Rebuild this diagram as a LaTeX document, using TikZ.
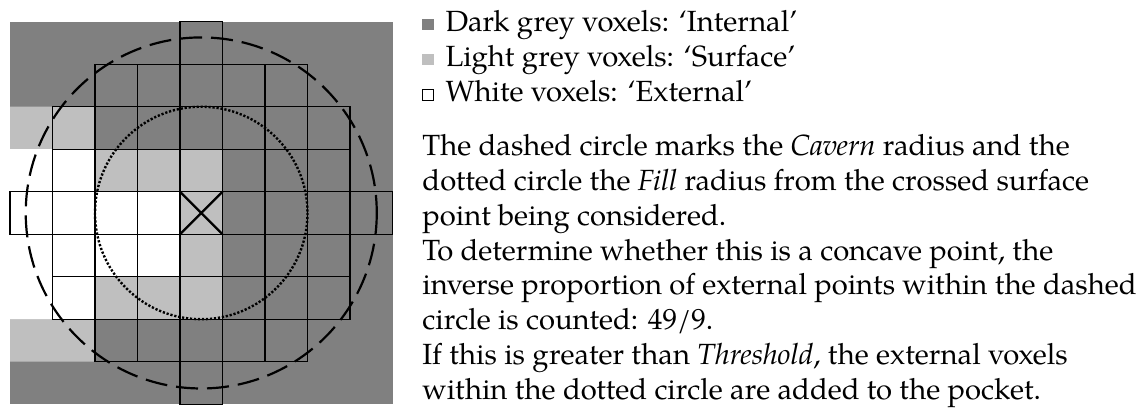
\documentclass[tikz,border=0pt]{standalone}
\usepackage{fontspec}
\setmainfont{TeX Gyre Pagella}
\usetikzlibrary{calc}

\definecolor{voxdark}{gray}{0.5}
\definecolor{voxlight}{gray}{0.75}
\newcommand{\swatch}[1]{\raisebox{0.8pt}{\textcolor{#1}{\rule{5.8pt}{5.8pt}}}}
\newcommand{\openswatch}{\raisebox{0.8pt}{\setlength{\fboxsep}{0pt}\setlength{\fboxrule}{0.4pt}\fbox{\rule{0pt}{5pt}\rule{5pt}{0pt}}}}

\begin{document}
\begin{tikzpicture}[x=0.5pt,y=-0.5pt,
  cell/.style={draw=black,line width=0.6pt},
  txt/.style={anchor=base west,inner sep=0pt,font=\fontsize{14.6}{18}\selectfont}]
  \useasboundingbox (0,0) rectangle (1138,412);
  % Left: voxel slice, 9x9 cells, crossed surface point in the middle
  \begin{scope}[shift={(10,21.7)},x=21.25pt,y=-21.25pt]
    \fill[voxdark] (0,0) rectangle (9,9);
    \fill[voxlight] (0,2) rectangle (2,3) (2,3) rectangle (5,4)
                    (4,4) rectangle (5,6) (2,6) rectangle (5,7) (0,7) rectangle (2,8);
    \fill[white] (0,3) rectangle (2,4) (0,4) rectangle (4,6) (0,6) rectangle (2,7);
    % cells inside the cavern radius
    \foreach \r/\a/\b in {0/4/4,1/2/6,2/1/7,3/1/7,4/0/8,5/1/7,6/1/7,7/2/6,8/4/4}
      \foreach \c in {\a,...,\b}
        \draw[cell] (\c,\r) rectangle ++(1,1);
    \draw[line width=1.1pt] (4,4) -- (5,5) (5,4) -- (4,5);
    % Cavern and Fill radii
    \draw[line width=1.1pt,dash pattern=on 11pt off 4.5pt] (4.5,4.5) circle (4.13);
    \draw[line width=1.2pt,dash pattern=on 1.1pt off 0.9pt] (4.5,4.5) circle (2.5);
  \end{scope}
  % Right: legend and explanation
  \foreach \t [count=\i] in {{\swatch{voxdark}\hspace{6pt}Dark grey voxels: `Internal'},
                            {\swatch{voxlight}\hspace{6pt}Light grey voxels: `Surface'},
                            {\openswatch\hspace{6pt}White voxels: `External'}}
    \node[txt] (leg\i) at (421.5,{31.7+35*(\i-1)}) {\t};
  \foreach \t [count=\i] in {{The dashed circle marks the \emph{Cavern} radius and the},
                            {dotted circle the \emph{Fill} radius from the crossed surface},
                            {point being considered.},
                            {To determine whether this is a concave point, the},
                            {inverse proportion of external points within the dashed},
                            {circle is counted: 49/9.},
                            {If this is greater than \emph{Threshold}, the external voxels},
                            {within the dotted circle are added to the pocket.}}
    \node[txt] (expl\i) at (422,{155.7+34.8*(\i-1)}) {\t};
\end{tikzpicture}
\end{document}
